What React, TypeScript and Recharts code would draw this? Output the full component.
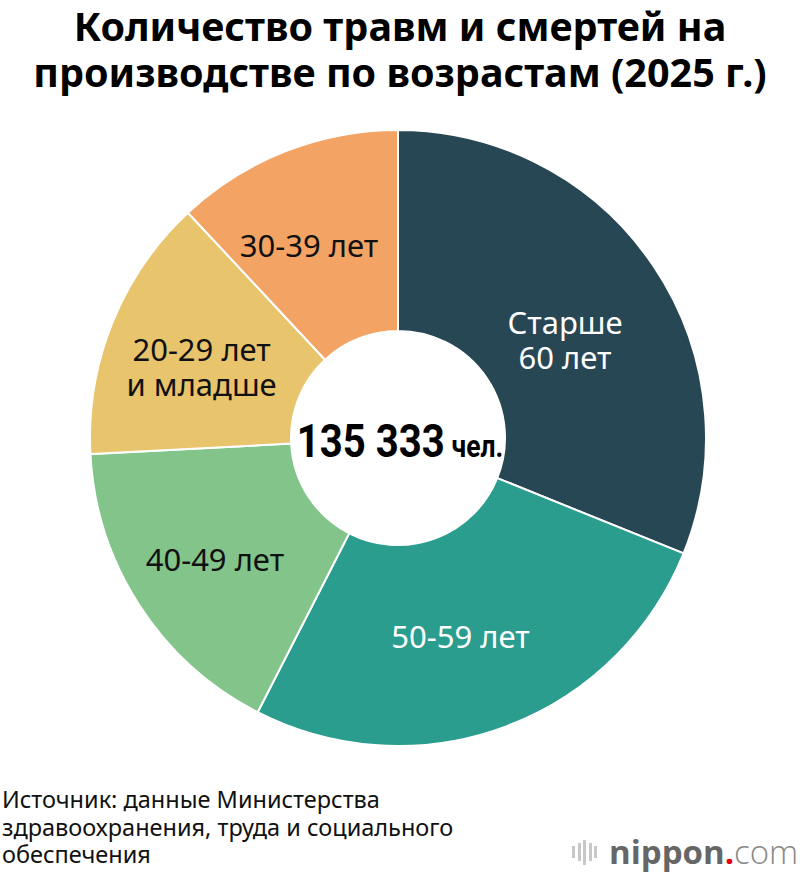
import * as React from "react";
import { PieChart, Pie, Cell, Label } from "recharts";

// ─── Data ─────────────────────────────────────────────────────────────────────

const AGE_GROUPS = ["Старше\n60 лет", "50-59 лет", "40-49 лет", "20-29 лет\nи младше", "30-39 лет"];
const CASES = [42104, 35751, 22518, 18796, 16164];
const TOTAL_LABEL = "135 333";
const UNIT_LABEL = "чел.";
const TITLE_LINES = ["Количество травм и смертей на", "производстве по возрастам (2025 г.)"];
const SOURCE_LINES = [
  "Источник: данные Министерства",
  "здравоохранения, труда и социального",
  "обеспечения",
];

// ─── Styles ───────────────────────────────────────────────────────────────────

const SLICE_COLORS = ["#284755", "#2a9d8f", "#82c48a", "#e8c46c", "#f3a464"];
const TEXT_COLORS = ["#ffffff", "#ffffff", "#111111", "#111111", "#111111"];
// small hand nudges of the in-slice labels, [dx, dy] in px
const LABEL_NUDGE = [
  [-5, 14],
  [-10, 0],
  [-9, 4],
  [-4, 2],
  [-13, -4],
];
const RADIAN = Math.PI / 180;

const chartData = AGE_GROUPS.map((name, i) => ({ name, value: CASES[i] }));

function SliceLabel(props: any) {
  const { cx, cy, midAngle, innerRadius, outerRadius, index, name } = props;
  const r = (innerRadius + outerRadius) / 2;
  const [nx, ny] = LABEL_NUDGE[index] ?? [0, 0];
  const x = cx + r * Math.cos(-midAngle * RADIAN) + nx;
  const y = cy + r * Math.sin(-midAngle * RADIAN) + 4 + ny;
  const lines = String(name).split("\n");
  const lineH = 35;
  const y0 = y - ((lines.length - 1) * lineH) / 2;
  return (
    <text
      x={x}
      y={y0}
      textAnchor="middle"
      dominantBaseline="central"
      fill={TEXT_COLORS[index]}
      fontFamily="'Noto Sans', sans-serif"
      fontSize={31}
    >
      {lines.map((l, i) => (
        <tspan key={i} x={x} dy={i === 0 ? 0 : lineH}>
          {l}
        </tspan>
      ))}
    </text>
  );
}

function CenterLabel(props: any) {
  const { viewBox } = props;
  const cx = viewBox?.cx ?? 398;
  const cy = viewBox?.cy ?? 438;
  // condensed look: squeeze the bold Roboto horizontally
  return (
    <g transform={`translate(${cx + 2}, ${cy + 19}) scale(0.853, 1)`}>
      <text x={0} y={0} textAnchor="middle" fontFamily="Roboto, sans-serif" fontWeight={700} fill="#000">
        <tspan fontSize={47}>{TOTAL_LABEL}</tspan>
        <tspan dx={8} fontSize={31}>
          {UNIT_LABEL}
        </tspan>
      </text>
    </g>
  );
}

export default function App() {
  return (
    <div style={{ position: "relative", width: 800, height: 876, background: "#fff", overflow: "hidden" }}>
      <style>{`body{margin:0}`}</style>

      <PieChart
        width={800}
        height={876}
        margin={{ top: 0, right: 0, bottom: 0, left: 0 }}
        style={{ position: "absolute", top: 0, left: 0 }}
      >
        <Pie
          data={chartData}
          dataKey="value"
          nameKey="name"
          cx={398}
          cy={438}
          innerRadius={107}
          outerRadius={308}
          startAngle={90}
          endAngle={-270}
          stroke="#ffffff"
          strokeWidth={2}
          label={SliceLabel}
          labelLine={false}
          isAnimationActive={false}
        >
          {chartData.map((_, i) => (
            <Cell key={`cell-${i}`} fill={SLICE_COLORS[i]} />
          ))}
          <Label position="center" content={<CenterLabel />} />
        </Pie>
      </PieChart>

      {/* Title */}
      {TITLE_LINES.map((line, i) => (
        <div
          key={i}
          style={{
            position: "absolute",
            top: 3 + i * 46,
            left: 0,
            width: 800,
            textAlign: "center",
            fontFamily: "'Noto Sans', sans-serif",
            fontWeight: 700,
            fontSize: 39.5,
            lineHeight: "46px",
            color: "#000",
            whiteSpace: "nowrap",
          }}
        >
          {line}
        </div>
      ))}

      {/* Source */}
      <div
        style={{
          position: "absolute",
          left: 2,
          top: 786,
          fontFamily: "'Noto Sans', sans-serif",
          fontSize: 23.5,
          lineHeight: "27.5px",
          color: "#111",
        }}
      >
        {SOURCE_LINES.map((line, i) => (
          <div key={i}>{line}</div>
        ))}
      </div>

      {/* Logo */}
      <div style={{ position: "absolute", left: 572, top: 834, display: "flex", alignItems: "center" }}>
        <div style={{ display: "flex", alignItems: "center", gap: 2.5, marginRight: 12 }}>
          {[12, 18, 25, 18, 12].map((h, i) => (
            <div key={i} style={{ width: 3, height: h, background: "#c8c8c8" }} />
          ))}
        </div>
        <span style={{ fontFamily: "'Open Sans', sans-serif", fontSize: 33, fontWeight: 700, color: "#666", lineHeight: "36px" }}>
          nippon
        </span>
        <span style={{ fontFamily: "'Open Sans', sans-serif", fontSize: 33, fontWeight: 700, color: "#e60012", lineHeight: "36px" }}>
          .
        </span>
        <span style={{ fontFamily: "'Open Sans', sans-serif", fontSize: 33, fontWeight: 300, color: "#888", lineHeight: "36px" }}>
          com
        </span>
      </div>
    </div>
  );
}
